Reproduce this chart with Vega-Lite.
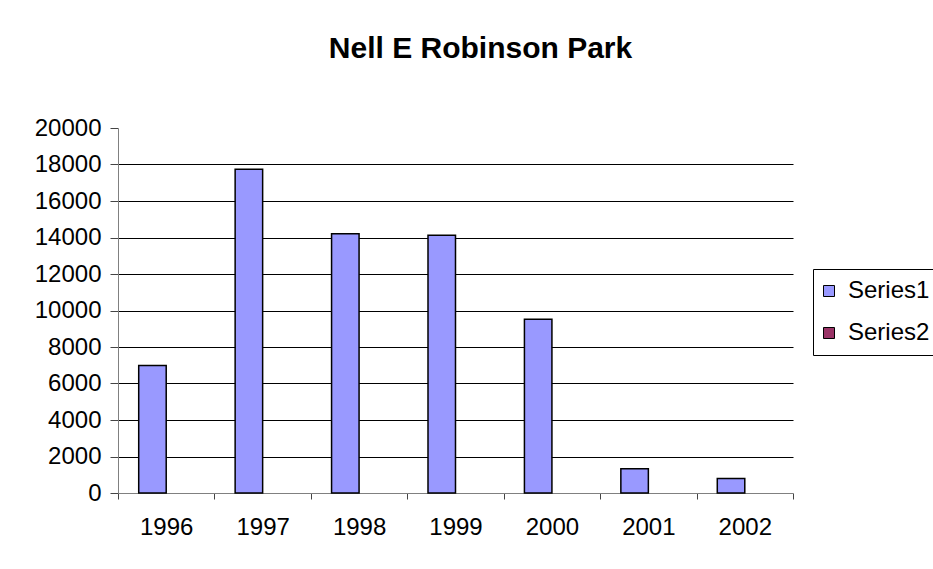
{
  "$schema": "https://vega.github.io/schema/vega-lite/v6.json",
  "width": 675,
  "height": 365,
  "autosize": {"type": "none"},
  "padding": {"left": 118, "top": 128, "right": 140, "bottom": 76},
  "background": "white",
  "title": {
    "text": "Nell E Robinson Park",
    "font": "Liberation Sans",
    "fontSize": 30,
    "fontWeight": "bold",
    "color": "black",
    "anchor": "middle",
    "baseline": "alphabetic",
    "offset": 28,
    "dx": 25
  },
  "config": {"view": {"stroke": null}},
  "data": {
    "values": [
      {"year": "1996", "series": "Series1", "value": 6980},
      {"year": "1997", "series": "Series1", "value": 17740},
      {"year": "1998", "series": "Series1", "value": 14210},
      {"year": "1999", "series": "Series1", "value": 14120},
      {"year": "2000", "series": "Series1", "value": 9520},
      {"year": "2001", "series": "Series1", "value": 1330},
      {"year": "2002", "series": "Series1", "value": 800}
    ]
  },
  "mark": {"type": "bar", "stroke": "black", "strokeWidth": 1.5},
  "encoding": {
    "x": {
      "field": "year",
      "type": "nominal",
      "scale": {"paddingInner": 0, "paddingOuter": 0},
      "axis": {
        "title": null,
        "labelAngle": 0,
        "tickBand": "extent",
        "domainColor": "#808080",
        "tickColor": "#444444",
        "tickSize": 6,
        "grid": false,
        "labelFont": "Liberation Sans",
        "labelFontSize": 24,
        "labelColor": "black",
        "labelPadding": 16
      }
    },
    "xOffset": {
      "field": "series",
      "scale": {"domain": ["Series1", "Series2"], "paddingInner": 0, "paddingOuter": 0.753}
    },
    "y": {
      "field": "value",
      "type": "quantitative",
      "scale": {"domain": [0, 20000], "nice": false},
      "axis": {
        "title": null,
        "values": [0, 2000, 4000, 6000, 8000, 10000, 12000, 14000, 16000, 18000, 20000],
        "format": "d",
        "domainColor": "#808080",
        "tickColor": "#444444",
        "tickSize": 8,
        "grid": true,
        "gridColor": {"condition": {"test": "datum.value == 20000 || datum.value == 0", "value": null}, "value": "black"},
        "gridOpacity": 1,
        "labelFont": "Liberation Sans",
        "labelFontSize": 24,
        "labelColor": "black",
        "labelPadding": 9
      }
    },
    "color": {
      "field": "series",
      "type": "nominal",
      "scale": {"domain": ["Series1", "Series2"], "range": ["#9999FF", "#993366"]},
      "legend": {
        "title": null,
        "orient": "none",
        "legendX": 695,
        "legendY": 141,
        "strokeColor": "black",
        "fillColor": "white",
        "padding": 10,
        "symbolType": "square",
        "symbolSize": 121,
        "symbolOffset": -6,
        "symbolStrokeColor": "black",
        "symbolStrokeWidth": 1,
        "symbolOpacity": 1,
        "labelFont": "Liberation Sans",
        "labelFontSize": 24,
        "labelColor": "black",
        "labelOffset": 7,
        "rowPadding": 18
      }
    }
  }
}
